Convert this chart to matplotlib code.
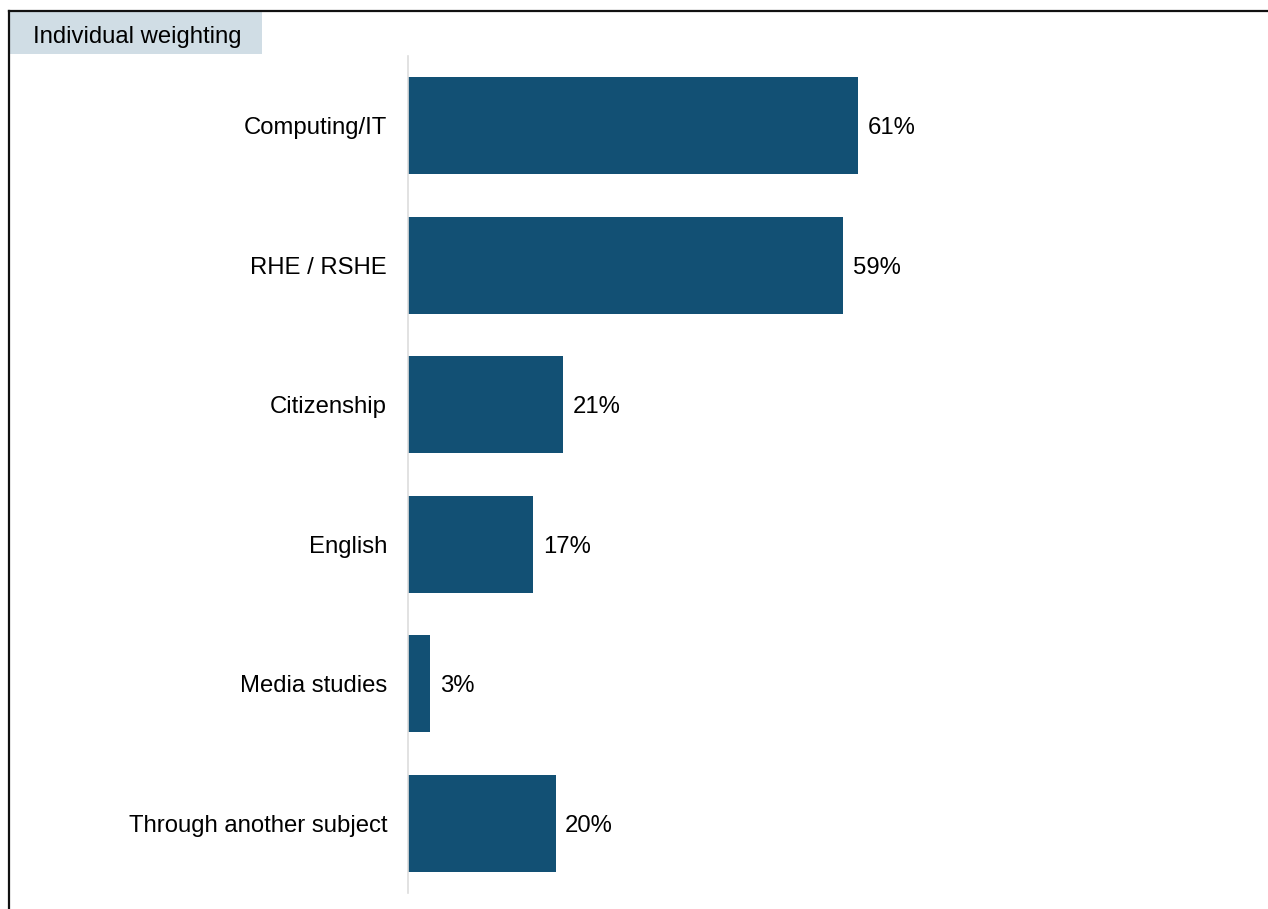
import matplotlib.pyplot as plt
from matplotlib.lines import Line2D
from matplotlib.patches import Rectangle

plt.rcParams['font.family'] = ['Liberation Sans', 'DejaVu Sans']

categories = ['Computing/IT', 'RHE / RSHE', 'Citizenship', 'English',
              'Media studies', 'Through another subject']
values = [61, 59, 21, 17, 3, 20]
header = 'Individual weighting'

W, H = 1268, 909
fig = plt.figure(figsize=(W / 100, H / 100), dpi=100)

# axes placed in pixel terms
ax_left, ax_right, ax_top, ax_bottom = 408, 1260, 56, 893
ax = fig.add_axes([ax_left / W, 1 - ax_bottom / H,
                   (ax_right - ax_left) / W, (ax_bottom - ax_top) / H])

bar_color = '#125074'
y = list(range(len(categories)))
ax.barh(y, values, height=0.695, color=bar_color)
ax.set_ylim(len(categories) - 0.5, -0.5)
ax.set_xlim(0, (ax_right - ax_left) / 7.377)

for yi, v in zip(y, values):
    ax.text(v + 1.3, yi, f'{v}%', va='center_baseline', ha='left', fontsize=17.2,
            color='#000000')

ax.set_yticks(y)
ax.set_yticklabels(categories, fontsize=17.2, color='#000000', va='center_baseline')
ax.tick_params(axis='y', length=0, pad=15)
ax.set_xticks([])
for s in ['top', 'right', 'bottom']:
    ax.spines[s].set_visible(False)
ax.spines['left'].set_color('#dddddd')
ax.spines['left'].set_linewidth(1.2)

# outer frame (top and left)
fig.add_artist(Line2D([9 / W, 1], [1 - 11 / H, 1 - 11 / H], color='#111111', lw=1.6,
                      transform=fig.transFigure))
fig.add_artist(Line2D([9 / W, 9 / W], [0, 1 - 11 / H], color='#111111', lw=1.6,
                      transform=fig.transFigure))

# header box
fig.add_artist(Rectangle((10 / W, 1 - 54 / H), 252 / W, 42 / H, facecolor='#d0dde5',
                         edgecolor='none', transform=fig.transFigure))
fig.text(33 / W, 1 - 35 / H, header, fontsize=17.2, va='center_baseline', ha='left',
         color='#000000')

fig.savefig('out.png', dpi=100)
